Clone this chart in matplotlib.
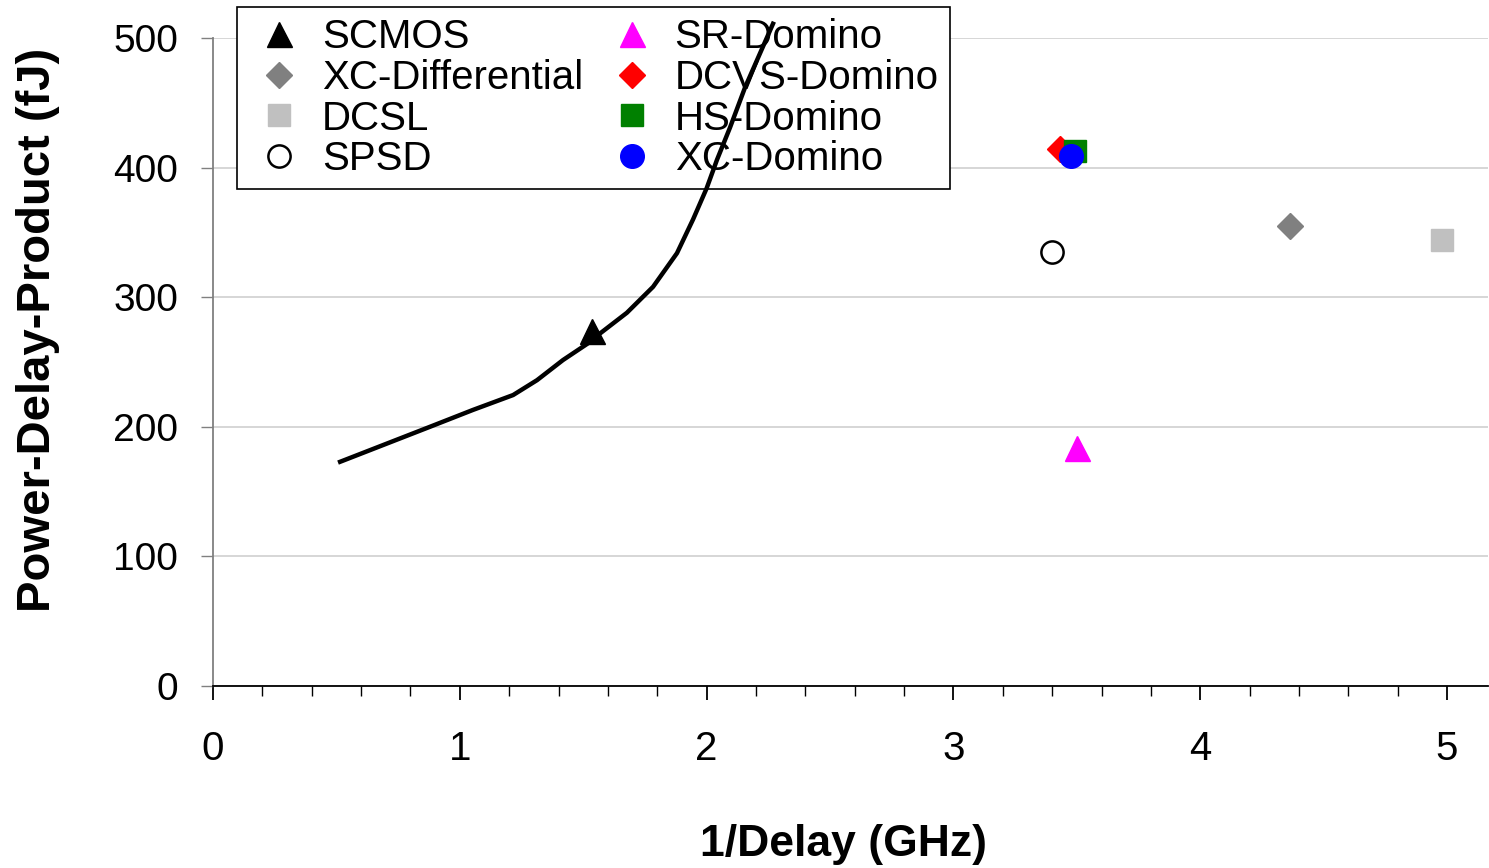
import matplotlib
matplotlib.use("Agg")
import matplotlib.pyplot as plt
from matplotlib.ticker import MultipleLocator

plt.rcParams['font.family'] = ['Liberation Sans', 'DejaVu Sans']

# SCMOS sweep curve
scmos_x = [0.515, 0.879, 1.053, 1.216, 1.313, 1.418, 1.528, 1.568, 1.677,
           1.783, 1.88, 1.945, 2.0, 2.042, 2.095, 2.156, 2.216, 2.269]
scmos_y = [173, 200, 213, 224.5, 236, 251.5, 265.5, 272, 288,
           308, 334, 360, 384, 406, 431, 462, 488, 511]
scmos_pt = (1.536, 274)

# single design points
names = ['XC-Differential', 'DCSL', 'SPSD', 'SR-Domino',
         'DCVS-Domino', 'HS-Domino', 'XC-Domino']
px = [4.365, 4.978, 3.398, 3.50, 3.432, 3.493, 3.476]
py = [355, 344, 335, 184, 414, 413, 409]

x_ticks = [0, 1, 2, 3, 4, 5]
y_ticks = [0, 100, 200, 300, 400, 500]

fig = plt.figure(figsize=(14.89, 8.68), dpi=100)
ax = fig.add_axes([213/1489, 1 - 686/868, (1488 - 213)/1489, (686 - 38)/868])

ax.set_xlim(0, 5.166)
ax.set_ylim(0, 500)
ax.set_xticks(x_ticks)
ax.set_yticks(y_ticks)
ax.xaxis.set_minor_locator(MultipleLocator(0.2))
ax.grid(axis='y', color='#d0d0d0', lw=1.2)
ax.set_axisbelow(True)

for s in ['top', 'right']:
    ax.spines[s].set_visible(False)
ax.spines['left'].set_color('#808080')
ax.spines['left'].set_linewidth(1.3)
ax.spines['bottom'].set_color('black')
ax.spines['bottom'].set_linewidth(1.3)

ax.tick_params(axis='x', which='major', direction='out', length=10, width=1.3,
               labelsize=29, pad=22)
ax.tick_params(axis='x', which='minor', direction='out', length=7, width=1.0)
ax.tick_params(axis='y', which='major', direction='out', length=9, width=1.0,
               color='#808080', labelsize=28, pad=16)

ax.plot(scmos_x, scmos_y, color='black', lw=3.2, clip_on=False, zorder=6,
        solid_joinstyle='round')

style = {
    'SCMOS': dict(marker='^', color='black', ms=18),
    'XC-Differential': dict(marker='D', color='#808080', ms=13),
    'DCSL': dict(marker='s', color='#c0c0c0', ms=16.5),
    'SPSD': dict(marker='o', mfc='white', mec='black', mew=1.8, ms=16),
    'SR-Domino': dict(marker='^', color='#ff00ff', ms=18),
    'DCVS-Domino': dict(marker='D', color='#ff0000', ms=13),
    'HS-Domino': dict(marker='s', color='#008000', ms=16.5),
    'XC-Domino': dict(marker='o', color='#0000ff', ms=17),
}

handles = []
h, = ax.plot([scmos_pt[0]], [scmos_pt[1]], ls='none', label='SCMOS',
             zorder=7, **style['SCMOS'])
handles.append(h)
for n, x, y in zip(names, px, py):
    h, = ax.plot([x], [y], ls='none', label=n, zorder=4, clip_on=False, **style[n])
    handles.append(h)

order = ['SCMOS', 'XC-Differential', 'DCSL', 'SPSD',
         'SR-Domino', 'DCVS-Domino', 'HS-Domino', 'XC-Domino']
hmap = {hh.get_label(): hh for hh in handles}
leg = ax.legend([hmap[o] for o in order], order, ncol=2,
                loc='upper left', bbox_to_anchor=(237/1489, 1 - 7/868),
                bbox_transform=fig.transFigure,
                fontsize=29, frameon=True, fancybox=False, edgecolor='black',
                framealpha=1, borderpad=0.28, labelspacing=0.065, handletextpad=0.275,
                handlelength=1.55, columnspacing=0.45, borderaxespad=0)
leg.get_frame().set_linewidth(1.2)
leg.set_zorder(5)

ax.set_xlabel('1/Delay (GHz)', fontsize=32, fontweight='bold', va='top')
ax.xaxis.set_label_coords(0.4945, (686 - 824) / 648)
ax.set_ylabel('Power-Delay-Product (fJ)', fontsize=34, fontweight='bold')
ax.yaxis.set_label_coords((60 - 213) / 1275, (686 - 330) / 648)

fig.savefig('out.png', dpi=100)
